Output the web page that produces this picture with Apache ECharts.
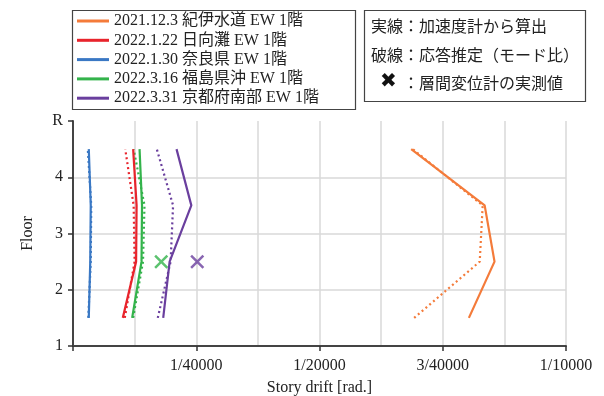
<!DOCTYPE html>
<html>
<head>
<meta charset="utf-8">
<script src="https://cdn.jsdelivr.net/npm/echarts@6/dist/echarts.min.js"></script>
<style>
  html, body { margin: 0; padding: 0; background: #fff; }
  #chart { width: 604px; height: 396px; }
</style>
</head>
<body>
<div id="chart"></div>
<script>
// Story mid-heights (between floor levels)
const floors = [1.5, 2.5, 3.5, 4.5];

// Floor tick labels (1 .. R)
const floorTickLabels = ['1', '2', '3', '4', 'R'];

// Drift tick labels, drift values in micro-radians
const driftTickValues = [25, 50, 75, 100];
const driftTickLabels = ['1/40000', '1/20000', '3/40000', '1/10000'];

// Earthquake records
const eventNames = [
  '2021.12.3 紀伊水道 EW 1階',
  '2022.1.22 日向灘 EW 1階',
  '2022.1.30 奈良県 EW 1階',
  '2022.3.16 福島県沖 EW 1階',
  '2022.3.31 京都府南部 EW 1階'
];
const eventColors = ['#f47b3a', '#e8242c', '#3a78c4', '#33b34b', '#6a3f9e'];

// Story drift from accelerometers (µrad), floors 1.5 .. 4.5
const driftAccel = [
  [80.3, 85.5, 83.5, 68.6],
  [10.1, 12.8, 12.9, 12.2],
  [3.2, 3.5, 3.6, 3.2],
  [12.0, 13.9, 14.0, 13.5],
  [18.3, 19.6, 24.0, 21.0]
];

// Story drift estimated from response (mode ratio), µrad
const driftModal = [
  [69.2, 82.5, 83.1, 68.9],
  [10.5, 12.5, 12.3, 10.6],
  [3.1, 3.6, 3.7, 3.0],
  [12.2, 14.2, 14.5, 12.3],
  [17.2, 19.8, 20.3, 17.0]
];

// Measured story drift by displacement meters (event index, µrad, floor)
const measuredEvent = [3, 4];
const measuredDrift = [17.9, 25.2];
const measuredFloor = [2.5, 2.5];

const serif = '"Liberation Serif", "Times New Roman", "Noto Sans CJK JP", serif';
const sans = '"Noto Sans CJK JP", "Noto Sans", sans-serif';
const crossPath = 'path://M0,1.25 L1.25,0 L5,3.75 L8.75,0 L10,1.25 L6.25,5 L10,8.75 L8.75,10 L5,6.25 L1.25,10 L0,8.75 L3.75,5 Z';

const series = [];
eventNames.forEach((name, i) => {
  series.push({
    name: name,
    type: 'line',
    data: driftAccel[i].map((v, k) => [v, floors[k]]),
    showSymbol: false,
    symbol: 'none',
    lineStyle: { color: eventColors[i], width: 2.2 },
    itemStyle: { color: eventColors[i] },
    z: 3
  });
});
eventNames.forEach((name, i) => {
  series.push({
    name: name + ' (mode)',
    type: 'line',
    data: driftModal[i].map((v, k) => [v, floors[k]]),
    showSymbol: false,
    symbol: 'none',
    lineStyle: { color: eventColors[i], width: 2.2, type: [2, 3] },
    itemStyle: { color: eventColors[i] },
    z: 2
  });
});
measuredEvent.forEach((ev, j) => {
  series.push({
    name: eventNames[ev] + ' measured',
    type: 'scatter',
    data: [[measuredDrift[j], measuredFloor[j]]],
    symbol: crossPath,
    symbolSize: 14,
    itemStyle: { color: eventColors[ev] },
    z: 4
  });
});

const chart = echarts.init(document.getElementById('chart'), null, { renderer: 'canvas' });
chart.setOption({
  animation: false,
  backgroundColor: '#fff',
  grid: { left: 73, top: 121, width: 493, height: 225, containLabel: false, outerBoundsMode: 'none' },
  legend: {
    data: eventNames,
    orient: 'vertical',
    left: 77,
    top: 13,
    padding: 0,
    itemGap: 3.3,
    itemWidth: 32,
    itemHeight: 3,
    icon: 'rect',
    selectedMode: false,
    textStyle: { fontFamily: serif, fontSize: 16, color: '#222', lineHeight: 16 }
  },
  xAxis: {
    type: 'value',
    min: 0,
    max: 100,
    interval: 25,
    name: 'Story drift [rad.]',
    nameLocation: 'middle',
    nameGap: 34,
    nameTextStyle: { fontFamily: serif, fontSize: 16, color: '#222' },
    axisLine: { show: true, lineStyle: { color: '#444', width: 2 } },
    axisTick: { show: true, inside: false, length: 5, lineStyle: { color: '#333', width: 1.5 } },
    axisLabel: {
      fontFamily: serif, fontSize: 16, color: '#222', margin: 12,
      formatter: v => {
        const k = driftTickValues.indexOf(Math.round(v));
        return k >= 0 ? driftTickLabels[k] : '';
      }
    },
    splitLine: { show: true, showMinLine: false, showMaxLine: true, lineStyle: { color: '#d9d9d9', width: 1.5 } },
    minorTick: { show: false, splitNumber: 2 },
    minorSplitLine: { show: true, lineStyle: { color: '#d9d9d9', width: 1.5 } }
  },
  yAxis: {
    type: 'value',
    min: 1,
    max: 5,
    interval: 1,
    name: 'Floor',
    nameLocation: 'middle',
    nameGap: 37,
    nameRotate: 90,
    nameTextStyle: { fontFamily: serif, fontSize: 16, color: '#222' },
    axisLine: { show: true, lineStyle: { color: '#444', width: 2 } },
    axisTick: { show: true, inside: false, length: 5, lineStyle: { color: '#333', width: 1.5 } },
    axisLabel: {
      fontFamily: serif, fontSize: 16, color: '#222', margin: 10,
      formatter: v => floorTickLabels[Math.round(v) - 1]
    },
    splitLine: { show: true, showMinLine: false, showMaxLine: false, lineStyle: { color: '#d9d9d9', width: 1.5 } }
  },
  graphic: [
    {
      type: 'rect', left: 70, top: 8, z: 0,
      shape: { width: 283, height: 99 },
      style: { fill: 'none', stroke: '#444', lineWidth: 1.2 }
    },
    {
      type: 'rect', left: 362, top: 8, z: 0,
      shape: { width: 221, height: 91 },
      style: { fill: 'none', stroke: '#444', lineWidth: 1.2 }
    },
    {
      type: 'text', left: 371, top: 18, z: 5,
      style: { text: '実線：加速度計から算出', font: '16px ' + sans, fill: '#222' }
    },
    {
      type: 'text', left: 371, top: 47, z: 5,
      style: { text: '破線：応答推定（モード比）', font: '16px ' + sans, fill: '#222' }
    },
    {
      type: 'text', left: 380, top: 72, z: 5,
      style: { text: '✖', font: 'bold 20px "DejaVu Sans", sans-serif', fill: '#111' }
    },
    {
      type: 'text', left: 403, top: 75, z: 5,
      style: { text: '：層間変位計の実測値', font: '16px ' + sans, fill: '#222' }
    }
  ],
  series: series
});
</script>
</body>
</html>
